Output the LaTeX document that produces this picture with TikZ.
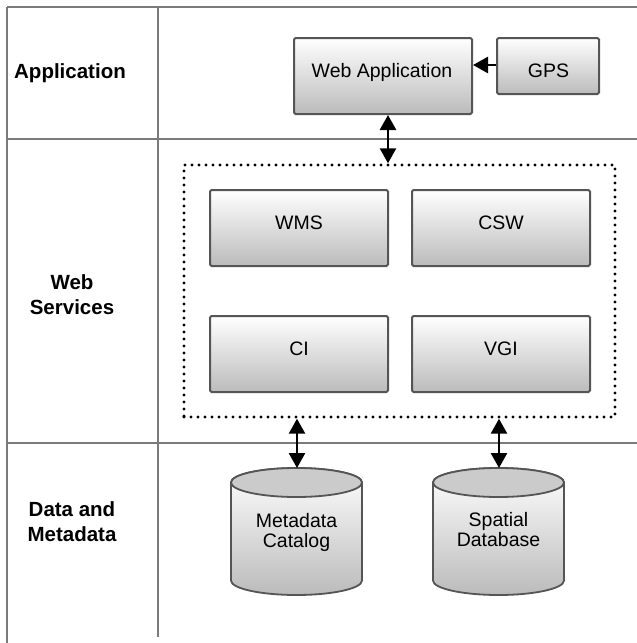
\documentclass[tikz,border=0pt]{standalone}
\usepackage{fontspec}
\setmainfont{Liberation Sans}
\usetikzlibrary{arrows.meta}
\definecolor{linegray}{HTML}{7A7A7A}
\definecolor{boxborder}{HTML}{555555}
\definecolor{boxbottom}{HTML}{BBBBBB}
\definecolor{endfill}{HTML}{CBCBCB}
\begin{document}
\begin{tikzpicture}[x=1pt,y=1pt,
  gridline/.style={draw=linegray,line width=2.4pt},
  svcbox/.style={draw=boxborder,line width=2pt,rounded corners=1.5pt,
    top color=white,bottom color=boxbottom,inner sep=0pt},
  boxtext/.style={font=\fontsize{19.5}{21}\selectfont,inner sep=0pt},
  rowlabel/.style={font=\fontsize{20.5}{25}\selectfont\bfseries,align=center,inner sep=0pt},
  dbtext/.style={font=\fontsize{19.5}{20}\selectfont,align=center,inner sep=0pt},
  dotbox/.style={draw=black,line width=3.4pt,line cap=round,dash pattern=on 0pt off 7pt,inner sep=0pt},
  biarrow/.style={{Triangle[width=16pt,length=15pt]}-{Triangle[width=16pt,length=15pt]},line width=2.6pt},
  onearrow/.style={-{Triangle[width=16pt,length=15pt]},line width=2.6pt},
  cylbody/.style={draw=boxborder,line width=1.8pt,top color=white,bottom color=boxbottom},
  cylend/.style={draw=boxborder,line width=1.8pt,fill=endfill}
]
\useasboundingbox (0,0) rectangle (637,-643);

% table grid
\draw[gridline] (7,-7) -- (637,-7);
\draw[gridline] (7,-7) -- (7,-643);
\draw[gridline] (158,-7) -- (158,-637);
\draw[gridline] (7,-139) -- (637,-139);
\draw[gridline] (7,-443) -- (637,-443);

% row labels
\node[rowlabel,anchor=base] (lapp) at (70,-78) {Application};
\node[rowlabel] (lws) at (72,-294.5) {Web\\Services};
\node[rowlabel] (ldata) at (72,-522) {Data and\\Metadata};

% application row
\node[svcbox,minimum width=178pt,minimum height=76pt] (webapp) at (383,-76) {};
\node[boxtext,anchor=base] (webappt) at (382,-77) {Web Application};
\node[svcbox,minimum width=102pt,minimum height=56pt] (gps) at (548,-66) {};
\node[boxtext,anchor=base] (gpst) at (548.5,-77) {GPS};

% web services
\node[dotbox,minimum width=431pt,minimum height=252pt] (services) at (399.5,-291) {};
\node[svcbox,minimum width=178pt,minimum height=76pt] (wms) at (299,-228) {};
\node[boxtext,anchor=base] (wmst) at (299,-229) {WMS};
\node[svcbox,minimum width=178pt,minimum height=76pt] (csw) at (501,-228) {};
\node[boxtext,anchor=base] (cswt) at (501,-229) {CSW};
\node[svcbox,minimum width=178pt,minimum height=76pt] (ci) at (299,-354) {};
\node[boxtext,anchor=base] (cit) at (299,-355) {CI};
\node[svcbox,minimum width=178pt,minimum height=76pt] (vgi) at (501,-354) {};
\node[boxtext,anchor=base] (vgit) at (501,-355) {VGI};

% cylinders
\draw[cylbody] (231,-482.5) -- (231,-580.5)
  arc[start angle=180,end angle=360,x radius=65.5,y radius=14.5]
  -- (362,-482.5)
  arc[start angle=0,end angle=180,x radius=65.5,y radius=14.5] -- cycle;
\draw[cylend] (296.5,-482.5) ellipse[x radius=65.5,y radius=14.5];
\coordinate (mdtop) at (297,-468);
\node[dbtext] (metadata) at (296.5,-532) {Metadata\\Catalog};

\draw[cylbody] (433,-482.5) -- (433,-580.5)
  arc[start angle=180,end angle=360,x radius=65.5,y radius=14.5]
  -- (564,-482.5)
  arc[start angle=0,end angle=180,x radius=65.5,y radius=14.5] -- cycle;
\draw[cylend] (498.5,-482.5) ellipse[x radius=65.5,y radius=14.5];
\coordinate (sptop) at (499,-468);
\node[dbtext] (spatial) at (498.5,-530) {Spatial\\Database};

% connectors
\draw[onearrow] (gps.west |- 0,-65) -- (webapp.east |- 0,-65);
\coordinate (wabot) at ([xshift=5pt]webapp.south);
\draw[biarrow] (wabot) -- (services.north -| wabot);
\draw[biarrow] (services.south -| mdtop) -- (mdtop);
\draw[biarrow] (services.south -| sptop) -- (sptop);
\end{tikzpicture}
\end{document}
